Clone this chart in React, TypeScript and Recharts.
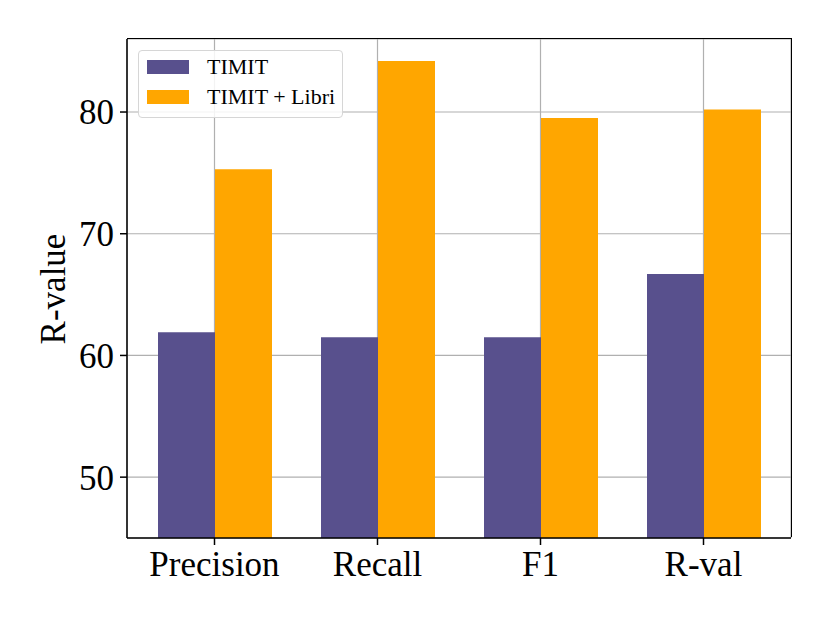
import { BarChart, Bar, XAxis, YAxis, CartesianGrid, Legend } from 'recharts'

// Metric names on the x axis
const metrics = ['Precision', 'Recall', 'F1', 'R-val']

// R-values
const timitValues = [61.9, 61.5, 61.5, 66.7]
const timitLibriValues = [75.3, 84.2, 79.5, 80.2]

const yTicks = [50, 60, 70, 80]

const PURPLE = '#58508d'
const ORANGE = '#ffa600'
const FONT = '"Liberation Serif", "DejaVu Serif", serif'
const FRAME = { stroke: '#000', strokeWidth: 1.5 }

const data = metrics.map((name, i) => ({
  name,
  timit: timitValues[i],
  libri: timitLibriValues[i],
}))

const legendItems = [
  { label: 'TIMIT', color: PURPLE },
  { label: 'TIMIT + Libri', color: ORANGE },
]

const LegendBox = () => (
  <div
    style={{
      border: '1px solid #d6d6d6',
      borderRadius: 4,
      background: 'rgba(255,255,255,0.85)',
      padding: '1px 7px 5px 8px',
      fontFamily: FONT,
      fontSize: 22,
      lineHeight: '30px',
      color: '#000',
      whiteSpace: 'nowrap',
    }}
  >
    {legendItems.map((item) => (
      <div key={item.label} style={{ display: 'flex', alignItems: 'center', height: 30 }}>
        <span style={{ width: 42, height: 14, background: item.color, display: 'inline-block', marginRight: 18 }} />
        <span>{item.label}</span>
      </div>
    ))}
  </div>
)

const YLabel = () => (
  <text
    x={53}
    y={289}
    transform="rotate(-90 53 289)"
    textAnchor="middle"
    dominantBaseline="central"
    fontFamily={FONT}
    fontSize={35}
    fill="#000"
  >
    R-value
  </text>
)

export default function App() {
  return (
    <div style={{ position: 'absolute', left: 0, top: 0, width: 830, height: 623, background: '#fff' }}>
      <BarChart
        width={830}
        height={623}
        data={data}
        margin={{ top: 39, right: 39, bottom: 0, left: 0 }}
        barGap={0}
        barSize={57}
      >
        <CartesianGrid stroke="#b0b0b0" strokeWidth={1.2} horizontal vertical />
        <XAxis
          dataKey="name"
          height={85}
          padding={{ left: 6, right: 6 }}
          stroke="#000"
          axisLine={FRAME}
          tickLine={FRAME}
          tickSize={7}
          tickMargin={6}
          tick={{ fill: '#000', fontSize: 35, fontFamily: FONT }}
          interval={0}
        />
        <YAxis
          width={127}
          domain={[45, 86]}
          ticks={yTicks}
          allowDataOverflow
          stroke="#000"
          axisLine={FRAME}
          tickLine={FRAME}
          tickSize={7}
          tickMargin={6}
          tick={{ fill: '#000', fontSize: 35, fontFamily: FONT }}
          label={{ content: () => <YLabel /> }}
        />
        <Legend
          layout="horizontal"
          verticalAlign="middle"
          align="center"
          content={() => <LegendBox />}
          wrapperStyle={{ left: 138, top: 50, width: 'auto', height: 'auto' }}
        />
        <Bar dataKey="timit" name="TIMIT" fill={PURPLE} isAnimationActive={false} />
        <Bar dataKey="libri" name="TIMIT + Libri" fill={ORANGE} isAnimationActive={false} />
      </BarChart>
      {/* top and right spines of the axes box */}
      <div
        style={{
          position: 'absolute',
          left: 127,
          top: 38.25,
          width: 664.75,
          height: 499,
          borderTop: '1.5px solid #000',
          borderRight: '1.5px solid #000',
          boxSizing: 'border-box',
          pointerEvents: 'none',
        }}
      />
    </div>
  )
}
